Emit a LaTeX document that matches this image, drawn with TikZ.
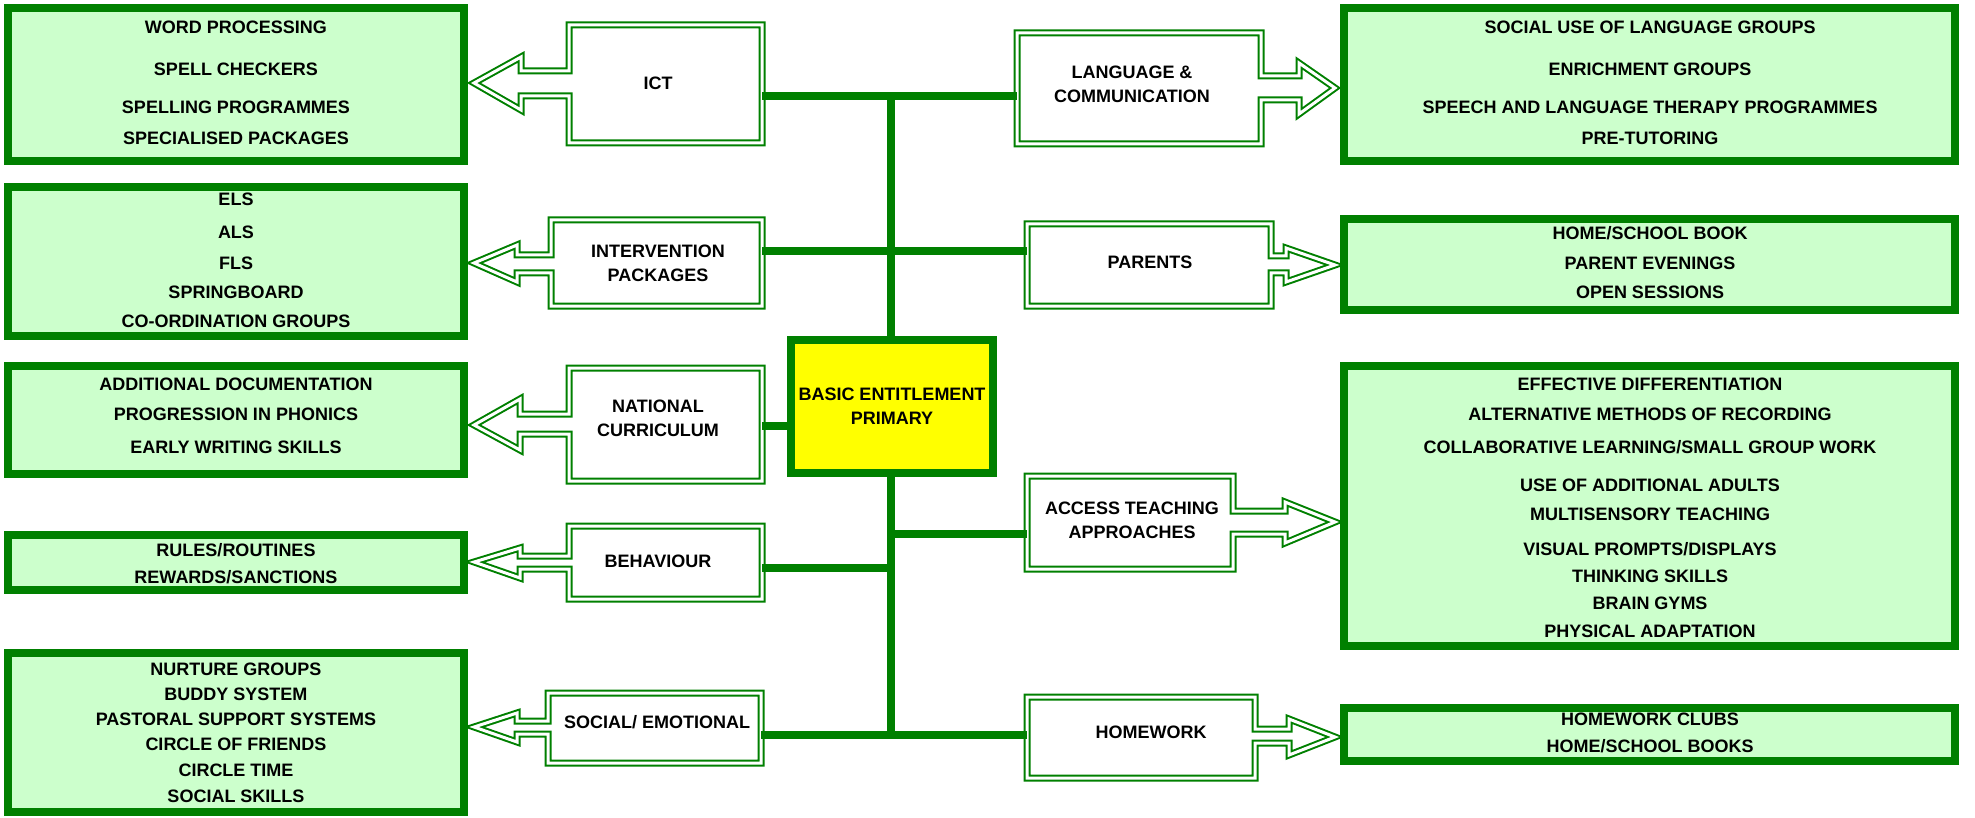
\documentclass[tikz,border=0pt]{standalone}
\usepackage{fontspec}
\setmainfont{Liberation Sans}
\definecolor{dg}{HTML}{008000}
\definecolor{lg}{HTML}{CCFFCC}
\definecolor{yel}{HTML}{FFFF00}
\tikzset{
  grp/.style={draw=dg, line width=8pt, fill=lg, inner sep=0pt},
  itm/.style={font=\bfseries\fontsize{18}{24}\selectfont, inner sep=0pt, text height=13pt, text depth=0pt, anchor=center},
  lab/.style={font=\bfseries\fontsize{18}{24}\selectfont, inner sep=0pt, align=center, anchor=center},
  ghost/.style={draw=none, inner sep=0pt},
  dbl/.style={draw=dg, line width=2pt, double=white, double distance=3pt, line join=miter},
  conn/.style={draw=dg, line width=8pt},
}
\begin{document}
\begin{tikzpicture}[x=1pt,y=-1pt]
\useasboundingbox[fill=white] (0,0) rectangle (1975,818);

% ---------- junction coordinates ----------
\coordinate (j1) at (891,96);
\coordinate (j2) at (891,251);
\coordinate (j6) at (891,426);
\coordinate (j4) at (891,534);
\coordinate (j3) at (891,568);
\coordinate (j5) at (891,735);

% ---------- arrow boxes (outlines) ----------
% left pointing
\draw[dbl] (762,25) -- (569,25) -- (569,71) -- (521,71) -- (521,57) -- (474,83) -- (521,110) -- (521,96) -- (569,96) -- (569,143) -- (762,143) -- cycle;
\draw[dbl] (762,220) -- (551,220) -- (551,255) -- (517,255) -- (517,245) -- (474,263) -- (517,282) -- (517,273) -- (551,273) -- (551,306) -- (762,306) -- cycle;
\draw[dbl] (762,368) -- (569,368) -- (569,414) -- (520,414) -- (520,399) -- (474,425) -- (520,450) -- (520,434) -- (569,434) -- (569,481) -- (762,481) -- cycle;
\draw[dbl] (762,526) -- (569,526) -- (569,556) -- (520,556) -- (520,548) -- (474,562) -- (520,578) -- (520,569) -- (569,569) -- (569,599) -- (762,599) -- cycle;
\draw[dbl] (761,693) -- (548,693) -- (548,721) -- (517,721) -- (517,713) -- (474,727) -- (517,742) -- (517,734) -- (548,734) -- (548,763) -- (761,763) -- cycle;
% right pointing
\draw[dbl] (1017,33) -- (1261,33) -- (1261,76) -- (1299,76) -- (1299,63) -- (1335,88) -- (1299,114) -- (1299,100) -- (1261,100) -- (1261,144) -- (1017,144) -- cycle;
\draw[dbl] (1027,224) -- (1271,224) -- (1271,256) -- (1286,256) -- (1286,248) -- (1335,265) -- (1286,282) -- (1286,273) -- (1271,273) -- (1271,306) -- (1027,306) -- cycle;
\draw[dbl] (1027,476) -- (1233,476) -- (1233,511) -- (1285,511) -- (1285,502) -- (1335,522) -- (1285,543) -- (1285,534) -- (1233,534) -- (1233,569) -- (1027,569) -- cycle;
\draw[dbl] (1027,697) -- (1255,697) -- (1255,729) -- (1289,729) -- (1289,719) -- (1335,737) -- (1289,755) -- (1289,743) -- (1255,743) -- (1255,778) -- (1027,778) -- cycle;

% ---------- arrow box anchors (named) ----------
\node[ghost, minimum width=193pt, minimum height=118pt] (ict) at (665.5,84) {};
\node[ghost, minimum width=211pt, minimum height=86pt] (interv) at (656.5,263) {};
\node[ghost, minimum width=193pt, minimum height=113pt] (nat) at (665.5,424.5) {};
\node[ghost, minimum width=193pt, minimum height=73pt] (behav) at (665.5,562.5) {};
\node[ghost, minimum width=213pt, minimum height=70pt] (social) at (654.5,728) {};
\node[ghost, minimum width=244pt, minimum height=111pt] (lang) at (1139,88.5) {};
\node[ghost, minimum width=244pt, minimum height=82pt] (parents) at (1149,265) {};
\node[ghost, minimum width=206pt, minimum height=93pt] (access) at (1130,522.5) {};
\node[ghost, minimum width=228pt, minimum height=81pt] (homework) at (1141,737.5) {};

% ---------- labels in arrow boxes ----------
\node[lab] (ict-t) at (658,83) {ICT};
\node[lab] (interv-t) at (658,263) {INTERVENTION\\PACKAGES};
\node[lab] (nat-t) at (658,418) {NATIONAL\\CURRICULUM};
\node[lab] (behav-t) at (658,561) {BEHAVIOUR};
\node[lab] (social-t) at (657,722) {SOCIAL/ EMOTIONAL};
\node[lab] (lang-t) at (1132,84) {LANGUAGE \&\\COMMUNICATION};
\node[lab] (parents-t) at (1150,262) {PARENTS};
\node[lab] (access-t) at (1132,520) {ACCESS TEACHING\\APPROACHES};
\node[lab] (homework-t) at (1151,732) {HOMEWORK};

% ---------- trunk and connectors ----------
\draw[conn] (j1) -- (j5);
\draw[conn] (ict.east |- j1) -- (lang.west |- j1);
\draw[conn] (interv.east |- j2) -- (parents.west |- j2);
\draw[conn] (behav.east |- j3) -- (j3);
\draw[conn] (j4) -- (access.west |- j4);
\draw[conn] (social.east |- j5) -- (homework.west |- j5);

% ---------- centre ----------
\node[draw=dg, line width=8pt, fill=yel, minimum width=202pt, minimum height=133pt, inner sep=0pt, align=center, font=\bfseries\fontsize{18}{24}\selectfont] (centre) at (892,406.5) {BASIC ENTITLEMENT\\PRIMARY};
\draw[conn] (nat.east |- j6) -- (centre.west |- j6);

% ---------- left groups ----------
\node[grp, minimum width=456pt, minimum height=153pt] (L1) at (236,84.5) {};
\node[grp, minimum width=456pt, minimum height=149pt] (L2) at (236,261.5) {};
\node[grp, minimum width=456pt, minimum height=108pt] (L3) at (236,420) {};
\node[grp, minimum width=456pt, minimum height=55pt] (L4) at (236,562.5) {};
\node[grp, minimum width=456pt, minimum height=159pt] (L5) at (236,732.5) {};
% ---------- right groups ----------
\node[grp, minimum width=611pt, minimum height=153pt] (R1) at (1649.5,84.5) {};
\node[grp, minimum width=611pt, minimum height=91pt] (R2) at (1649.5,264.5) {};
\node[grp, minimum width=611pt, minimum height=280pt] (R3) at (1649.5,506) {};
\node[grp, minimum width=611pt, minimum height=53pt] (R4) at (1649.5,734.5) {};

% ---------- left items ----------
\node[itm] (l1a) at (236,27) {WORD PROCESSING};
\node[itm] (l1b) at (236,69) {SPELL CHECKERS};
\node[itm] (l1c) at (236,107) {SPELLING PROGRAMMES};
\node[itm] (l1d) at (236,138) {SPECIALISED PACKAGES};

\node[itm] (l2a) at (236,199) {ELS};
\node[itm] (l2b) at (236,232) {ALS};
\node[itm] (l2c) at (236,263) {FLS};
\node[itm] (l2d) at (236,292) {SPRINGBOARD};
\node[itm] (l2e) at (236,321) {CO-ORDINATION GROUPS};

\node[itm] (l3a) at (236,384) {ADDITIONAL DOCUMENTATION};
\node[itm] (l3b) at (236,414) {PROGRESSION IN PHONICS};
\node[itm] (l3c) at (236,447) {EARLY WRITING SKILLS};

\node[itm] (l4a) at (236,550) {RULES/ROUTINES};
\node[itm] (l4b) at (236,577) {REWARDS/SANCTIONS};

\node[itm] (l5a) at (236,669) {NURTURE GROUPS};
\node[itm] (l5b) at (236,694) {BUDDY SYSTEM};
\node[itm] (l5c) at (236,719) {PASTORAL SUPPORT SYSTEMS};
\node[itm] (l5d) at (236,744) {CIRCLE OF FRIENDS};
\node[itm] (l5e) at (236,770) {CIRCLE TIME};
\node[itm] (l5f) at (236,796) {SOCIAL SKILLS};

% ---------- right items ----------
\node[itm] (r1a) at (1650,27) {SOCIAL USE OF LANGUAGE GROUPS};
\node[itm] (r1b) at (1650,69) {ENRICHMENT GROUPS};
\node[itm] (r1c) at (1650,107) {SPEECH AND LANGUAGE THERAPY PROGRAMMES};
\node[itm] (r1d) at (1650,138) {PRE-TUTORING};

\node[itm] (r2a) at (1650,233) {HOME/SCHOOL BOOK};
\node[itm] (r2b) at (1650,263) {PARENT EVENINGS};
\node[itm] (r2c) at (1650,292) {OPEN SESSIONS};

\node[itm] (r3a) at (1650,384) {EFFECTIVE DIFFERENTIATION};
\node[itm] (r3b) at (1650,414) {ALTERNATIVE METHODS OF RECORDING};
\node[itm] (r3c) at (1650,447) {COLLABORATIVE LEARNING/SMALL GROUP WORK};
\node[itm] (r3d) at (1650,485) {USE OF ADDITIONAL ADULTS};
\node[itm] (r3e) at (1650,514) {MULTISENSORY TEACHING};
\node[itm] (r3f) at (1650,549) {VISUAL PROMPTS/DISPLAYS};
\node[itm] (r3g) at (1650,576) {THINKING SKILLS};
\node[itm] (r3h) at (1650,603) {BRAIN GYMS};
\node[itm] (r3i) at (1650,631) {PHYSICAL ADAPTATION};

\node[itm] (r4a) at (1650,719) {HOMEWORK CLUBS};
\node[itm] (r4b) at (1650,746) {HOME/SCHOOL BOOKS};
\end{tikzpicture}
\end{document}
